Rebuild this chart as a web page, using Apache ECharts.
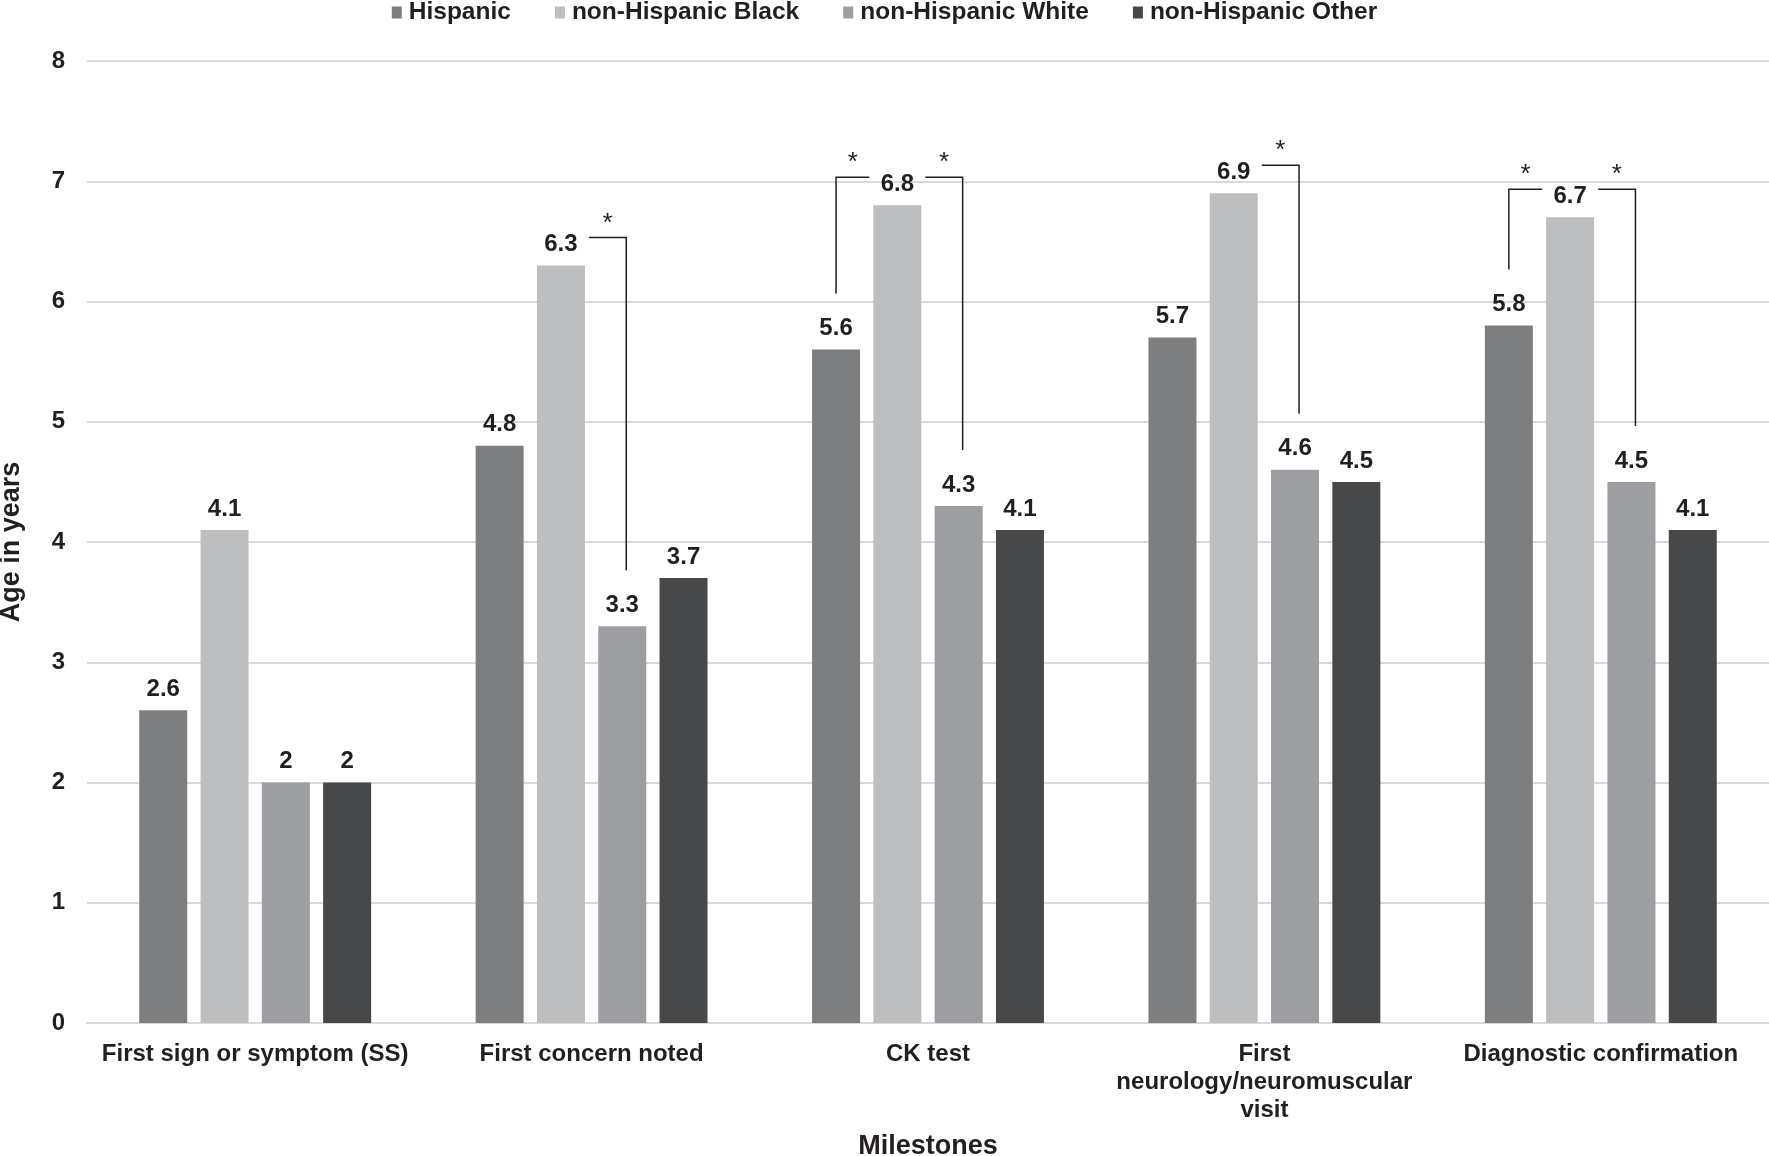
<!DOCTYPE html>
<html><head><meta charset="utf-8">
<script src="https://cdn.jsdelivr.net/npm/echarts@6/dist/echarts.min.js"></script>
<style>html,body{margin:0;padding:0;background:#fff}#c{width:1769px;height:1156px}</style>
</head><body><div id="c"></div>
<script>
const categories = ['First sign or symptom (SS)', 'First concern noted', 'CK test', 'First\nneurology/neuromuscular\nvisit', 'Diagnostic confirmation'];
const seriesNames = ['Hispanic', 'non-Hispanic Black', 'non-Hispanic White', 'non-Hispanic Other'];
const hispanic = [2.6, 4.8, 5.6, 5.7, 5.8];
const nhBlack = [4.1, 6.3, 6.8, 6.9, 6.7];
const nhWhite = [2.0, 3.3, 4.3, 4.6, 4.5];
const nhOther = [2.0, 3.7, 4.1, 4.5, 4.1];
const colors = ['#7d7e80', '#bdbec0', '#9d9ea1', '#47484a'];
const yTicks = [0, 1, 2, 3, 4, 5, 6, 7, 8];
// significance brackets: [category index, from series index, to series index]
const sigPairs = [[1, 1, 2], [2, 0, 1], [2, 1, 2], [3, 1, 2], [4, 0, 1], [4, 1, 2]];

const allValues = [hispanic, nhBlack, nhWhite, nhOther];
const FONT = 'Liberation Sans, Arial, sans-serif';
const TXT = '#231f20';
const BAR_W = 48, BAR_GAP_PX = 13.3;

const chart = echarts.init(document.getElementById('c'), null, {renderer: 'canvas'});

function bracketRender(params, api) {
  const cat = api.value(0), a = api.value(1), b = api.value(2);
  const cx = api.coord([cat, 0])[0];
  const step = BAR_W + BAR_GAP_PX;
  const xOf = k => cx + (k - 1.5) * step;
  const yTop = k => api.coord([cat, allValues[k][cat]])[1];
  const lineY = yTop(1) - 28;
  const labelGap = 28;
  let pts, starX;
  if (a === 0) {
    const x0 = xOf(0), x1 = xOf(1) - labelGap;
    pts = [[x0, yTop(0) - 56], [x0, lineY], [x1, lineY]];
    starX = (x0 + x1) / 2;
  } else {
    const x0 = xOf(1) + labelGap, x1 = xOf(b) + 4;
    pts = [[x0, lineY], [x1, lineY], [x1, yTop(b) - 56]];
    starX = (x0 + x1) / 2;
  }
  return {
    type: 'group',
    children: [
      {type: 'polyline', shape: {points: pts}, style: {stroke: '#231f20', lineWidth: 1.5, fill: null}},
      {type: 'text', x: starX, y: lineY - 14, style: {text: '*', fill: TXT, font: '26px ' + FONT, align: 'center', verticalAlign: 'middle'}}
    ]
  };
}

const barSeries = seriesNames.map((n, i) => ({
  name: n,
  type: 'bar',
  data: allValues[i],
  barWidth: BAR_W,
  barGap: (BAR_GAP_PX / BAR_W * 100).toFixed(1) + '%',
  itemStyle: {color: colors[i]},
  label: {show: true, position: 'top', distance: 9, color: TXT, fontFamily: FONT, fontWeight: 'bold', fontSize: 24,
    formatter: p => String(p.value)}
}));

chart.setOption({
  animation: false,
  backgroundColor: '#fff',
  textStyle: {fontFamily: FONT},
  legend: {
    data: seriesNames,
    top: -5,
    left: 'center',
    itemWidth: 10, itemHeight: 12, itemGap: 44,
    icon: 'rect',
    textStyle: {color: TXT, fontFamily: FONT, fontWeight: 'bold', fontSize: 24.5, padding: [0, 0, 0, 2]}
  },
  grid: {left: 87, right: 0, top: 61, bottom: 133, containLabel: false, outerBoundsMode: 'none'},
  xAxis: {
    type: 'category',
    data: categories,
    axisTick: {show: false},
    axisLine: {lineStyle: {color: '#d9d9d9', width: 2}},
    axisLabel: {color: TXT, fontFamily: FONT, fontWeight: 'bold', fontSize: 24, margin: 17, lineHeight: 28, interval: 0},
    name: 'Milestones',
    nameLocation: 'middle',
    nameGap: 110,
    nameTextStyle: {color: TXT, fontFamily: FONT, fontWeight: 'bold', fontSize: 27}
  },
  yAxis: {
    type: 'value',
    min: yTicks[0], max: yTicks[yTicks.length - 1], interval: 1,
    splitLine: {lineStyle: {color: '#d9d9d9', width: 2}},
    axisLine: {show: false},
    axisTick: {show: false},
    axisLabel: {color: TXT, fontFamily: FONT, fontWeight: 'bold', fontSize: 24, margin: 22},
    name: 'Age in years',
    nameLocation: 'middle',
    nameGap: 62,
    nameTextStyle: {color: TXT, fontFamily: FONT, fontWeight: 'bold', fontSize: 27}
  },
  series: barSeries.concat([{
    type: 'custom',
    name: 'sig',
    data: sigPairs,
    renderItem: bracketRender,
    z: 5,
    silent: true
  }])
});
</script></body></html>
